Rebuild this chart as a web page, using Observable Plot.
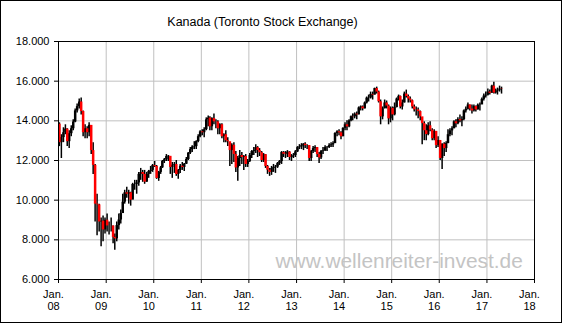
<!DOCTYPE html>
<html><head><meta charset="utf-8">
<script src="https://cdn.jsdelivr.net/npm/d3@7"></script>
<script src="https://cdn.jsdelivr.net/npm/@observablehq/plot@0.6"></script>
<style>
html,body{margin:0;padding:0;background:#fff;}
#chart{position:relative;width:562px;height:324px;overflow:hidden;}
#border{position:absolute;left:0;top:0;width:560px;height:321px;border:1px solid #000;pointer-events:none;}
</style></head><body><div id="chart"><div id="border"></div></div>
<script>
const title = "Kanada (Toronto Stock Exchange)";
const watermark = "www.wellenreiter-invest.de";
const startYear = 2008;        // half-month bars, starting Jan 2008
const firstOpen = 13833;
const yTicks = [6000, 8000, 10000, 12000, 14000, 16000, 18000];
const xTickYears = [2008, 2009, 2010, 2011, 2012, 2013, 2014, 2015, 2016, 2017, 2018];

const close = [
 // 2008
 12900,13155,13400,13583,12950,13350,13600,13937,14500,14715,14950,14467,13400,13600,13400,13771,12500,11753,9800,9763,8900,8942,8500,8988,
 // 2009
 8700,8700,8700,8120,8050,8720,9000,9325,9900,10370,10300,10375,10000,10790,10800,10868,11300,11395,11300,10911,11300,11447,11500,11746,
 // 2010
 11700,11094,11400,11630,11950,12037,12200,12211,11650,11763,11800,11294,11500,11713,11650,11814,12050,12369,12550,12676,12700,12953,13200,13443,
 // 2011
 13400,13552,14050,14137,13700,14116,13950,13945,13600,13803,13200,13300,13000,12946,12500,12769,12300,11624,12100,12252,12150,12204,11800,11955,
 // 2012
 12250,12452,12500,12644,12500,12392,12000,12294,11700,11513,11400,11597,11650,11665,11850,11949,12400,12317,12300,12423,12150,12239,12250,12434,
 // 2013
 12650,12685,12750,12822,12750,12750,12100,12457,12600,12650,12300,12129,12450,12487,12650,12654,12750,12787,12850,13361,13450,13395,13200,13622,
 // 2014
 13800,13695,14000,14210,14200,14335,14300,14652,14700,14604,14900,15146,15150,15331,15300,15626,15450,14961,14200,14613,14900,14745,14100,14632,
 // 2015
 14300,14674,15100,15234,14700,14902,15350,15225,15100,15014,14700,14553,14550,14468,14200,13859,13500,13307,13750,13529,13100,13470,12750,13010,
 // 2016
 12100,12822,12600,12860,13300,13494,13600,13951,13850,14066,14000,14065,14500,14583,14800,14598,14500,14725,14550,14787,14800,15083,15250,15288,
 // 2017
 15450,15386,15750,15400,15500,15548,15600,15586
];
const high = [
 13900,13300,13650,13800,13600,13500,13750,14050,14600,14850,15100,15155,14500,13800,13700,13900,13700,12900,11800,10300,9800,9100,9200,9100,
 9300,8900,9100,8700,8300,8900,9300,9500,10300,10500,10650,10500,10400,10850,11000,11000,11400,11600,11500,11500,11400,11500,11700,11800,
 11950,11750,11450,11700,12000,12100,12300,12250,12150,11900,11900,12000,11550,11800,11900,11850,12150,12400,12650,12750,12950,13000,13300,13500,
 13550,13650,14150,14250,14200,14150,14350,14050,14000,13850,13850,13350,13500,13150,12900,12850,12900,12450,12200,12500,12400,12250,12300,12050,
 12350,12500,12650,12800,12700,12600,12450,12350,12300,11750,11600,11700,11800,11750,11900,12000,12450,12450,12450,12500,12450,12300,12350,12500,
 12700,12800,12850,12850,12900,12800,12750,12500,12700,12750,12650,12400,12500,12650,12750,12700,12850,12900,12950,13400,13500,13550,13450,13650,
 13900,14000,14050,14250,14350,14400,14450,14700,14750,14750,14950,15200,15300,15450,15450,15650,15700,15500,15050,14700,15050,15000,14800,14700,
 14700,14900,15150,15300,15250,15050,15450,15550,15300,15200,15050,14800,14700,14650,14500,14100,13950,13800,13900,13950,13600,13550,13450,13200,
 13000,12850,12900,12950,13550,13600,13700,14000,14050,14150,14300,14200,14550,14700,14900,14800,14800,14800,14750,14850,14900,15150,15350,15450,
 15600,15550,15800,15950,15600,15650,15750,15700
];
const low = [
 12700,12100,12900,13300,12700,12600,13200,13500,13900,14400,14600,14300,13200,13100,13100,13200,12300,11300,8900,8200,8400,7650,7900,8300,
 8400,8250,8400,7800,7480,7900,8500,8800,9350,9800,10100,9800,9700,10050,10500,10300,10700,11000,10900,10800,10900,11100,11300,11400,
 11650,11050,10950,11300,11600,11850,11950,11950,11300,11100,11350,11200,11050,11350,11500,11450,11800,12000,12300,12400,12550,12550,12900,13150,
 13250,13150,13500,13700,13500,13500,13800,13600,13300,13300,13100,12900,12900,12700,11700,11800,11900,11400,10950,11700,11800,11500,11650,11650,
 11900,12100,12250,12350,12150,12200,11900,11900,11600,11300,11200,11250,11400,11350,11600,11750,11800,12150,12100,12150,12000,11950,12100,12150,
 12400,12550,12550,12500,12600,12550,11950,11950,12350,12400,12150,11850,12050,12300,12450,12450,12600,12650,12650,12900,13200,13250,13050,13200,
 13500,13500,13650,13950,14000,14100,14050,14300,14500,14500,14600,14850,14950,15100,15050,15300,15350,14900,13800,14050,14600,14600,13800,13900,
 14000,14250,14650,15000,14600,14550,14900,15150,14900,14900,14600,14450,14250,14100,14000,12800,13000,13000,13250,13450,13000,13000,12600,12650,
 12000,11550,12200,12400,12850,13200,13250,13600,13650,13800,13900,13700,14000,14400,14550,14500,14350,14450,14450,14550,14500,14850,15000,15150,
 15250,15300,15400,15350,15350,15300,15450,15350
];

const data = close.map((c, i) => ({
  date: new Date(startYear + Math.floor(i / 24), Math.floor((i % 24) / 2), i % 2 ? 23 : 8),
  open: i ? close[i - 1] : firstOpen,
  close: c,
  high: high[i],
  low: low[i]
}));
const up = data.filter(d => d.close >= d.open);
const down = data.filter(d => d.close < d.open);
const xTicks = xTickYears.map(y => new Date(y, 0, 1));
const fmtY = d => d3.format(",")(d).replace(/,/g, ".");

const chart = Plot.plot({
  width: 562,
  height: 324,
  marginLeft: 58,
  marginRight: 28,
  marginTop: 41,
  marginBottom: 45,
  style: {fontFamily: "'Liberation Sans', Arial, sans-serif", fontSize: "11px", background: "#fff", color: "#000"},
  x: {type: "time", domain: [new Date(2008, 0, 1), new Date(2018, 0, 1)]},
  y: {domain: [6000, 18000]},
  marks: [
    Plot.gridX(xTicks, {stroke: "#c0c0c0", strokeOpacity: 1}),
    Plot.gridY(yTicks, {stroke: "#c0c0c0", strokeOpacity: 1}),
    Plot.text([watermark], {frameAnchor: "bottom-left", dx: 217, dy: -18, textAnchor: "start", lineAnchor: "middle", fontSize: 20.9, fill: "#c4c4c4"}),
    Plot.ruleX(data, {x: "date", y1: "low", y2: "high", stroke: "#000", strokeWidth: 1.5}),
    Plot.ruleX(up, {x: "date", y1: "open", y2: "close", stroke: "#000", strokeWidth: 2.5}),
    Plot.ruleX(down, {x: "date", y1: "open", y2: "close", stroke: "#ff0000", strokeWidth: 2.5}),
    Plot.frame({stroke: "#000"}),
    Plot.axisY(yTicks, {tickSize: 4, tickPadding: 5, tickFormat: fmtY, stroke: "#000"}),
    Plot.axisX(xTicks, {tickSize: 4, tickFormat: () => "", stroke: "#000"}),
    Plot.axisX(xTicks, {tickSize: 0, tickPadding: 10, tickFormat: d => "Jan.\n" + String(d.getFullYear()).slice(2), lineHeight: 1.1, dx: -5}),
    Plot.text([title], {frameAnchor: "top-left", dx: 204, dy: -20, fontSize: 12.5, lineAnchor: "middle", textAnchor: "middle"})
  ]
});
document.getElementById("chart").prepend(chart);
</script>
</body></html>
